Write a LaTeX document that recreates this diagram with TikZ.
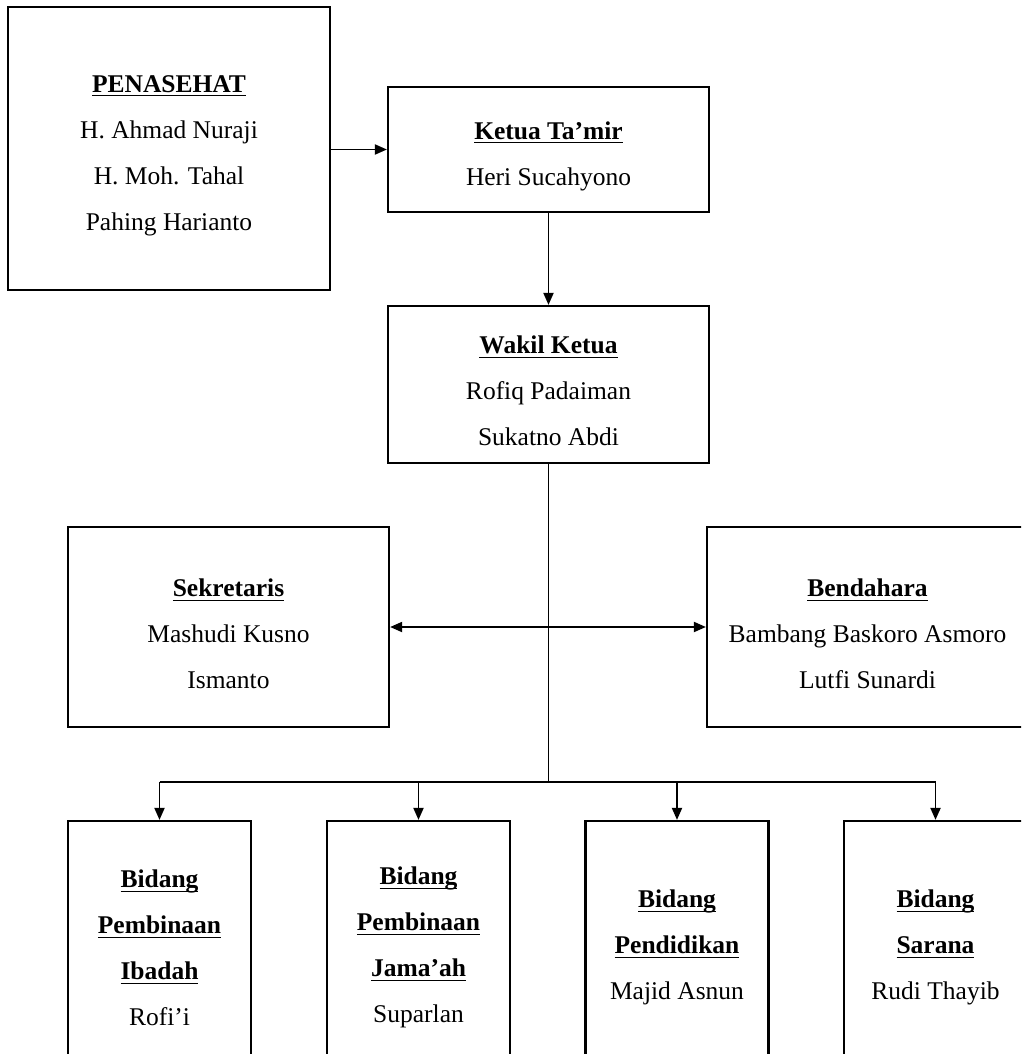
\documentclass[tikz,border=0pt]{standalone}
\usepackage{fontspec}
\setmainfont{Liberation Serif}
\usetikzlibrary{arrows.meta}
\newcommand{\judul}[1]{\rule{0pt}{31pt}\underline{\raisebox{0pt}[\height][2pt]{\textbf{#1}}}}

\begin{document}
\begin{tikzpicture}[x=1pt,y=-1pt,
    kotak/.style={rectangle,draw,line width=2.2pt,align=center,inner sep=0pt,
      font=\fontsize{25.5}{46}\selectfont},
    garis/.style={line width=1.9pt},
    ujung/.tip={Triangle[length=12pt,width=10pt]},
    panah/.style={garis,-ujung}]
    \useasboundingbox (0,0) rectangle (1021,1054);
    \clip (0,0) rectangle (1021,1054);

    % Penasehat, ketua, wakil
    \node[kotak,minimum width=322pt,minimum height=283pt] (penasehat) at (169,148.5) {\judul{PENASEHAT}\\H. Ahmad Nuraji\\H. Moh. Tahal\\Pahing Harianto};
    \node[kotak,minimum width=321pt,minimum height=125pt] (ketua) at (548.5,149.5) {\judul{Ketua Ta’mir}\\Heri Sucahyono};
    \node[kotak,minimum width=321pt,minimum height=157pt] (wakil) at (548.5,384.5) {\judul{Wakil Ketua}\\Rofiq Padaiman\\Sukatno Abdi};

    % Sekretaris dan bendahara
    \node[kotak,minimum width=321pt,minimum height=200pt] (sekretaris) at (228.5,627) {\judul{Sekretaris}\\Mashudi Kusno\\Ismanto};
    \node[kotak,minimum width=321pt,minimum height=200pt] (bendahara) at (867.5,627) {\judul{Bendahara}\\Bambang Baskoro Asmoro\\Lutfi Sunardi};

    % Bidang
    \node[kotak,minimum width=183pt,minimum height=240pt] (ibadah) at (159.5,941) {\judul{Bidang}\\\judul{Pembinaan}\\\judul{Ibadah}\\Rofi’i};
    \node[kotak,minimum width=183pt,minimum height=240pt] (jamaah) at (418.5,941) {\judul{Bidang}\\\judul{Pembinaan}\\\judul{Jama’ah}\\Suparlan};
    \node[kotak,minimum width=183pt,minimum height=240pt] (pendidikan) at (677,941) {\judul{Bidang}\\\judul{Pendidikan}\\Majid Asnun};
    \node[kotak,minimum width=183pt,minimum height=240pt] (sarana) at (935.5,941) {\judul{Bidang}\\\judul{Sarana}\\Rudi Thayib};

    % Garis penghubung
    \coordinate (cabang) at (548.5,782);
    \draw[panah] (penasehat.east |- ketua) -- (ketua.west);
    \draw[panah] (ketua.south) -- (wakil.north);
    \draw[garis] (wakil.south) -- (cabang);
    \draw[garis,ujung-ujung] (sekretaris.east) -- (bendahara.west);
    \draw[garis] (ibadah.north |- cabang) -- (sarana.north |- cabang);
    \foreach \b in {ibadah,jamaah,pendidikan,sarana}
        \draw[panah] (\b.north |- cabang) -- (\b.north);
\end{tikzpicture}
\end{document}
